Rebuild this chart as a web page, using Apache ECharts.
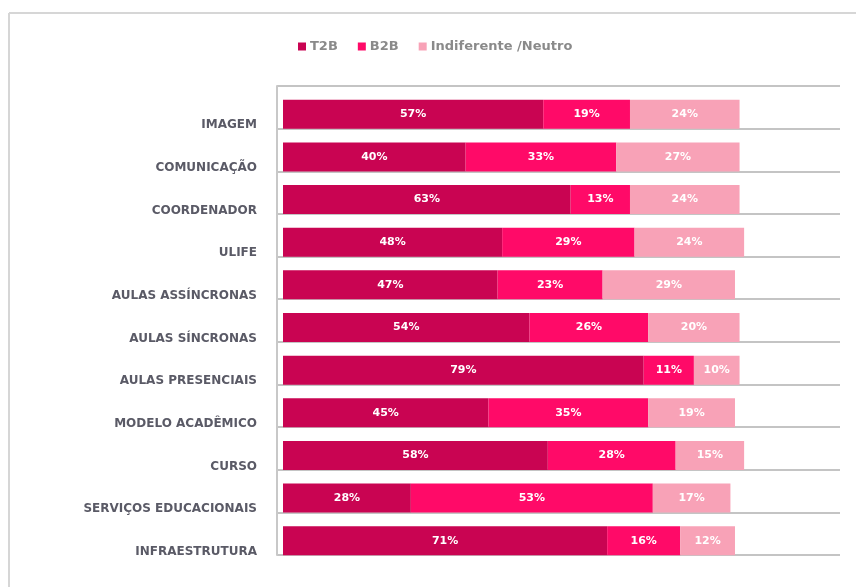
<!DOCTYPE html>
<html>
<head>
<meta charset="utf-8">
<script src="https://cdn.jsdelivr.net/npm/echarts@6/dist/echarts.min.js"></script>
<style>
html,body{margin:0;padding:0;background:#fff;}
#chart{width:856px;height:587px;}
</style>
</head>
<body>
<div id="chart"></div>
<script>
const categories = ['IMAGEM','COMUNICAÇÃO','COORDENADOR','ULIFE','AULAS ASSÍNCRONAS','AULAS SÍNCRONAS','AULAS PRESENCIAIS','MODELO ACADÊMICO','CURSO','SERVIÇOS EDUCACIONAIS','INFRAESTRUTURA'];
const seriesNames = ['T2B','B2B','Indiferente /Neutro'];
const t2b = [57,40,63,48,47,54,79,45,58,28,71];
const b2b = [19,33,13,29,23,26,11,35,28,53,16];
const neutro = [24,27,24,24,29,20,10,19,15,17,12];
const colors = ['#c90452','#ff0a68','#f8a2b7'];

const chart = echarts.init(document.getElementById('chart'));
const labelStyle = {show:true, position:'inside', formatter:'{c}%', color:'#fff', fontFamily:'DejaVu Sans', fontWeight:'bold', fontSize:11};
const vals = [t2b,b2b,neutro];
const series = seriesNames.map((n,i)=>({
  name:n, type:'bar', stack:'s', xAxisIndex:0, yAxisIndex:0, barWidth:29,
  itemStyle:{color:colors[i]}, label:labelStyle, data:vals[i]
}));
chart.setOption({
  animation:false,
  backgroundColor:'#fff',
  color:colors,
  graphic:[
    {type:'line', shape:{x1:9,y1:13,x2:856,y2:13}, style:{stroke:'#d6d6d6', lineWidth:2}},
    {type:'line', shape:{x1:9,y1:13,x2:9,y2:587}, style:{stroke:'#d6d6d6', lineWidth:2}}
  ],
  legend:{
    data:seriesNames, top:35, left:293, itemWidth:8, itemHeight:8, itemGap:20,
    icon:'rect',
    textStyle:{color:'#8a8a8a', fontFamily:'DejaVu Sans', fontWeight:'bold', fontSize:13, padding:[0,0,0,-1]}
  },
  grid:[
    {left:283, right:16, top:93, bottom:25},
    {left:277, right:16, top:86, bottom:32}
  ],
  xAxis:[
    {gridIndex:0, type:'value', min:0, max:122, show:false},
    {gridIndex:1, type:'value', min:0, max:122, show:false}
  ],
  yAxis:[
    {gridIndex:0, type:'category', inverse:true, data:categories,
     axisLine:{show:false}, axisTick:{show:false}, splitLine:{show:false},
     axisLabel:{margin:26, color:'#5a5a66', fontFamily:'DejaVu Sans', fontWeight:'bold', fontSize:12, verticalAlign:'top', lineHeight:22}},
    {gridIndex:1, type:'category', inverse:true, data:categories,
     axisLine:{show:true, lineStyle:{color:'#c8c8c8', width:2}}, axisTick:{show:false},
     axisLabel:{show:false},
     splitLine:{show:true, lineStyle:{color:'#c4c4c4', width:2}}}
  ],
  series:series.concat([{type:'bar', xAxisIndex:1, yAxisIndex:1, data:[], silent:true}])
});
</script>
</body>
</html>
